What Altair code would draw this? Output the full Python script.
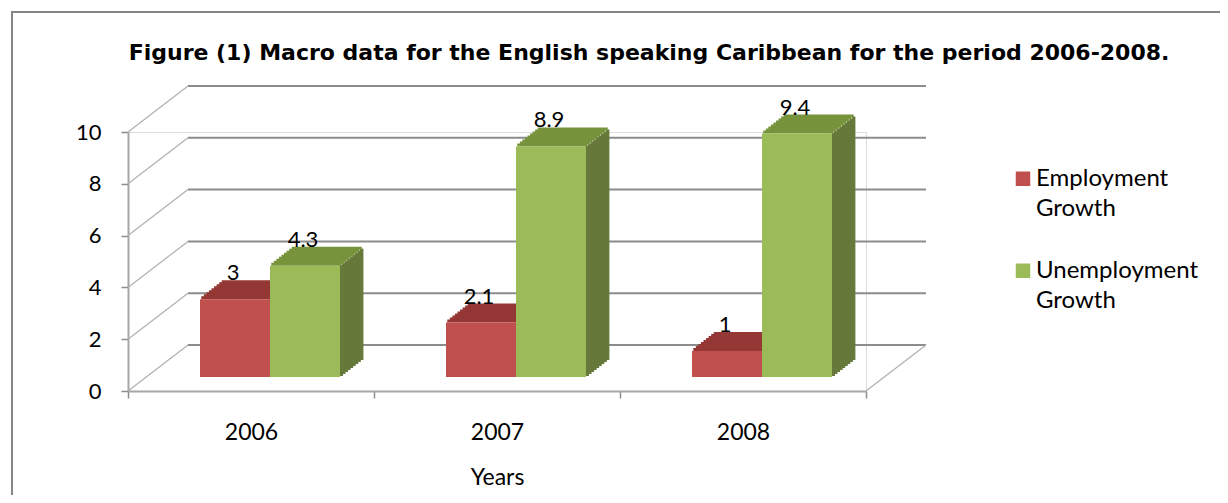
import altair as alt
import pandas as pd

# ---- data ----
years = ["2006", "2007", "2008"]
employment_growth = [3, 2.1, 1]
unemployment_growth = [4.3, 8.9, 9.4]
series_names = ["Employment Growth", "Unemployment Growth"]
y_ticks = [0, 2, 4, 6, 8, 10]

rows = []
for i, yr in enumerate(years):
    rows.append({"Year": yr, "Series": series_names[0], "Value": employment_growth[i]})
    rows.append({"Year": yr, "Series": series_names[1], "Value": unemployment_growth[i]})
df = pd.DataFrame(rows)
ticks_df = pd.DataFrame({"tick": y_ticks})
one_df = pd.DataFrame({"a": [0]})

FONT = "Lato"
RED, RED_TOP, RED_SIDE = "#C0504D", "#953735", "#7E2D2B"
GRN, GRN_TOP, GRN_SIDE = "#9BBB59", "#77933C", "#66793A"
W, H = 738, 259
DX, DY = 60, -46          # depth of the back wall
BX, BY = 19, -14          # bar plane shift
BDX, BDY = 23, -18        # bar depth
BW = 70                   # bar width
NS = 9                    # slices used to draw the slanted faces

x_axis = alt.Axis(title="Years", labelFont=FONT, labelFontSize=23, labelColor="#000",
                  labelAngle=0, labelPadding=23, tickBand="extent", tickSize=7,
                  tickColor="#8c8c8c", tickWidth=1.5, domainColor="#a6a6a6", domainWidth=2,
                  titleFont=FONT, titleFontSize=23, titleFontWeight="normal",
                  titleColor="#000", titlePadding=22)
y_axis = alt.Axis(title=None, values=y_ticks, labelFont=FONT, labelFontSize=22,
                  labelColor="#000", labelPadding=20, tickSize=7, tickColor="#8c8c8c",
                  tickWidth=1.5, domainColor="#a6a6a6", domainWidth=2, grid=False)
x_scale = alt.Scale(type="band", domain=years, paddingInner=0, paddingOuter=0)
y_scale = alt.Scale(domain=[0, 10], nice=False, zero=True)

def X():
    return alt.X("Year:N", scale=x_scale, axis=x_axis)

def Yv():
    return alt.Y("Value:Q", scale=y_scale, axis=y_axis, stack=None)

border = alt.Chart(one_df).mark_rect(fill=None, stroke="#868686", strokeWidth=2).encode(
    x=alt.value(-116), x2=alt.value(1200), y=alt.value(-120), y2=alt.value(420))

back_grid = alt.Chart(ticks_df).mark_rule(color="#8c8c8c", strokeWidth=2,
                                          yOffset=DY, y2Offset=DY).encode(
    x=alt.value(DX), x2=alt.value(W + DX),
    y=alt.Y("tick:Q", scale=y_scale, axis=y_axis))

side_wall = alt.Chart(ticks_df).mark_rule(color="#b0b0b0", strokeWidth=1.2,
                                          y2Offset=DY).encode(
    x=alt.value(0), x2=alt.value(DX),
    y=alt.Y("tick:Q", scale=y_scale, axis=y_axis), y2="tick:Q")

floor_right = alt.Chart(one_df).mark_rule(color="#b0b0b0", strokeWidth=1.2,
                                          y2Offset=DY).encode(
    x=alt.value(W), x2=alt.value(W + DX),
    y=alt.Y("a:Q", scale=y_scale, axis=y_axis), y2="a:Q")

legend = alt.Legend(title=None, orient="none", legendX=883, legendY=42,
                    symbolType="M-1,-2H1V0H-1Z", symbolSize=210, symbolStrokeWidth=0,
                    labelFont=FONT, labelFontSize=24, labelColor="#000", labelLimit=0,
                    labelExpr="split(datum.label, ' ')", labelBaseline="alphabetic",
                    labelOffset=1, rowPadding=38)

def bar_layers(series, off, front, top, side, label_dx):
    base = alt.Chart(df).transform_filter(alt.datum.Series == series)
    out_side, out_top = [], []
    # right side face, drawn as thin vertical slices that climb with depth
    for j in range(NS):
        f = (j + 0.5) / NS
        out_side.append(base.mark_bar(
            width=BDX / NS + 0.8, xOffset=off + BW / 2 + BDX * f,
            yOffset=BY + BDY * f, y2Offset=BY + BDY * f, color=side).encode(
            x=X(), y=Yv(), y2=alt.datum(0)))
    # top face, drawn as thin horizontal slices that shift with depth
    for k in range(NS):
        f0, f1 = k / NS, (k + 1) / NS
        out_top.append(base.mark_bar(
            width=BW, xOffset=off + BDX * (f0 + f1) / 2,
            yOffset=BY + BDY * f1 - 1.0, y2Offset=BY + BDY * f0, color=top).encode(
            x=X(), y=Yv(), y2="Value:Q"))
    front_l = base.mark_bar(width=BW, xOffset=off, yOffset=BY, y2Offset=BY).encode(
        x=X(), y=Yv(), y2=alt.datum(0),
        color=alt.Color("Series:N",
                        scale=alt.Scale(domain=series_names, range=[RED, GRN]),
                        legend=legend))
    label_l = base.mark_text(font=FONT, fontSize=22, baseline="alphabetic",
                             xOffset=off + label_dx, yOffset=BY + BDY - 1, color="#000").encode(
        x=X(), y=Yv(), text=alt.Text("Value:Q", format="~g"))
    return out_side, out_top, front_l, label_l

r_side, r_top, r_front, r_lab = bar_layers(series_names[0], BX - BW / 2, RED, RED_TOP, RED_SIDE, -2)
g_side, g_top, g_front, g_lab = bar_layers(series_names[1], BX + BW / 2, GRN, GRN_TOP, GRN_SIDE, -2)

layers = [border, back_grid, side_wall, floor_right] + r_side + g_side + r_top + g_top + \
         [r_front, g_front, r_lab, g_lab]

chart = alt.layer(*layers).properties(
    width=W, height=H,
    title=alt.TitleParams("Figure (1) Macro data for the English speaking Caribbean for the period 2006-2008.",
                          font="DejaVu Sans", fontSize=22, fontWeight="bold", color="#000",
                          anchor="middle", frame="group", dx=152, offset=0, dy=71,
                          baseline="alphabetic"),
    autosize=alt.AutoSizeParams(type="none"),
    padding={"left": 120, "top": 124, "right": 354, "bottom": 104},
).configure_view(stroke=None).configure(
    background="white", style={"guide-label": {"lineHeight": 30}})

chart.save("out.html", embed_options={"renderer": "svg", "actions": False})
